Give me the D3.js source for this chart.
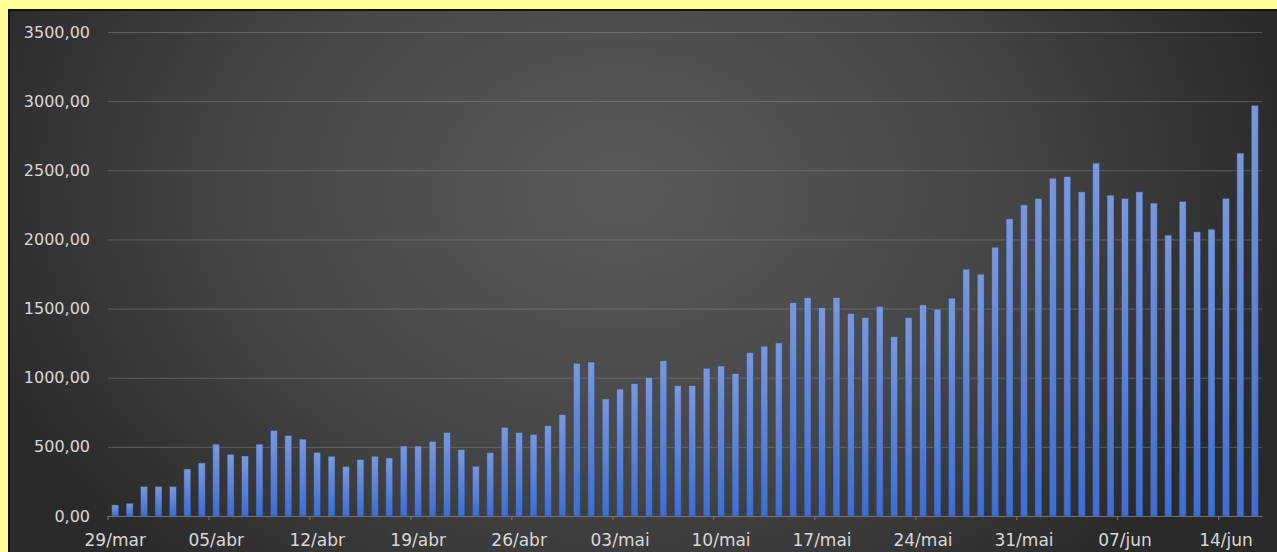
<!DOCTYPE html>
<html>
<head>
<meta charset="utf-8">
<script src="https://cdn.jsdelivr.net/npm/d3@7"></script>
<style>
  html, body { margin: 0; padding: 0; background: #ffff99; }
  svg { display: block; }
</style>
</head>
<body>
<div id="chart"></div>
<script>
// daily values, 29/mar .. 16/jun
const dates = [
  "29/mar","30/mar","31/mar",
  "01/abr","02/abr","03/abr","04/abr","05/abr","06/abr","07/abr","08/abr","09/abr","10/abr",
  "11/abr","12/abr","13/abr","14/abr","15/abr","16/abr","17/abr","18/abr","19/abr","20/abr",
  "21/abr","22/abr","23/abr","24/abr","25/abr","26/abr","27/abr","28/abr","29/abr","30/abr",
  "01/mai","02/mai","03/mai","04/mai","05/mai","06/mai","07/mai","08/mai","09/mai","10/mai",
  "11/mai","12/mai","13/mai","14/mai","15/mai","16/mai","17/mai","18/mai","19/mai","20/mai",
  "21/mai","22/mai","23/mai","24/mai","25/mai","26/mai","27/mai","28/mai","29/mai","30/mai","31/mai",
  "01/jun","02/jun","03/jun","04/jun","05/jun","06/jun","07/jun","08/jun","09/jun","10/jun",
  "11/jun","12/jun","13/jun","14/jun","15/jun","16/jun"
];

const values = [
  80, 92, 213,
  213, 213, 340, 384, 520, 446, 434, 520, 618, 582,
  556, 460, 432, 358, 408, 432, 420, 506, 506, 540,
  603, 480, 360, 458, 642, 603, 590, 653, 733, 1105,
  1114, 847, 918, 957, 1003, 1123, 943, 943, 1068, 1085,
  1030, 1182, 1228, 1252, 1543, 1580, 1507, 1580, 1465, 1435,
  1515, 1297, 1435, 1527, 1496, 1575, 1785, 1749, 1944, 2149, 2250,
  2296, 2443, 2455, 2344, 2552, 2320, 2296, 2344, 2263, 2031,
  2274, 2055, 2074, 2296, 2624, 2969
];

const yTicks = [0, 500, 1000, 1500, 2000, 2500, 3000, 3500];
const xTickLabels = ["29/mar","05/abr","12/abr","19/abr","26/abr","03/mai","10/mai","17/mai","24/mai","31/mai","07/jun","14/jun"];

const width = 1277, height = 552;
const margin = {top: 32, right: 15, bottom: 36, left: 108};

const ptBR = d3.formatLocale({decimal: ",", thousands: "", grouping: [3], currency: ["R$", ""]});
const fmt = ptBR.format(".2f");

const svg = d3.select("#chart").append("svg")
    .attr("width", width)
    .attr("height", height);

const defs = svg.append("defs");

const bg = defs.append("radialGradient")
    .attr("id", "bg")
    .attr("gradientUnits", "userSpaceOnUse")
    .attr("cx", 620).attr("cy", 190).attr("r", 680)
    .attr("gradientTransform", "translate(620,190) scale(1,0.75) translate(-620,-190)");
bg.append("stop").attr("offset", "0%").attr("stop-color", "#5a5a5a");
bg.append("stop").attr("offset", "55%").attr("stop-color", "#464646");
bg.append("stop").attr("offset", "100%").attr("stop-color", "#2a2a2a");

const barGrad = defs.append("linearGradient")
    .attr("id", "bar")
    .attr("x1", 0).attr("y1", 0).attr("x2", 0).attr("y2", 1);
barGrad.append("stop").attr("offset", "0%").attr("stop-color", "#7b97d9");
barGrad.append("stop").attr("offset", "100%").attr("stop-color", "#3e6ecf");

// chart frame (yellow page shows around it)
svg.append("rect")
    .attr("x", 8).attr("y", 9)
    .attr("width", width - 8).attr("height", height - 9)
    .attr("fill", "#111");
svg.append("rect")
    .attr("x", 10).attr("y", 11)
    .attr("width", width - 10).attr("height", height - 11)
    .attr("fill", "url(#bg)");

const x = d3.scaleBand()
    .domain(dates)
    .range([margin.left, width - margin.right])
    .paddingInner(0.52)
    .paddingOuter(0.26);

const y = d3.scaleLinear()
    .domain([0, 3500])
    .range([height - margin.bottom, margin.top]);

// gridlines + y labels
const yAxis = g => g
    .attr("transform", `translate(${margin.left},0)`)
    .call(d3.axisLeft(y)
        .tickValues(yTicks)
        .tickFormat(fmt)
        .tickSize(-(width - margin.left - margin.right))
        .tickPadding(18))
    .call(g => g.select(".domain").remove())
    .call(g => g.selectAll(".tick line")
        .attr("stroke", "#8a8a8a")
        .attr("stroke-opacity", 0.5))
    .call(g => g.selectAll(".tick text")
        .attr("fill", "#d8d8d8")
        .style("font", "16px 'DejaVu Sans', sans-serif"));

svg.append("g").call(yAxis);

// bars
svg.append("g")
  .selectAll("rect")
  .data(values)
  .join("rect")
    .attr("x", (d, i) => x(dates[i]))
    .attr("y", d => y(d))
    .attr("width", x.bandwidth())
    .attr("height", d => y(0) - y(d))
    .attr("fill", "url(#bar)")
    .attr("stroke", "#22407e")
    .attr("stroke-opacity", 0.6)
    .attr("stroke-width", 0.8);

// x axis
const step = x.step();
const xAxis = g => g
    .attr("transform", `translate(0,${y(0)})`)
    .call(d3.axisBottom(x)
        .tickValues(xTickLabels)
        .tickSize(0)
        .tickPadding(18))
    .call(g => g.select(".domain")
        .attr("stroke", "#7a7a7a")
        .attr("stroke-opacity", 0.7))
    .call(g => g.selectAll(".tick text")
        .attr("fill", "#d8d8d8")
        .style("font", "17px 'DejaVu Sans', sans-serif"))
    .call(g => g.selectAll(".tick").append("line")
        .attr("x1", -step / 2).attr("x2", -step / 2)
        .attr("y1", 0).attr("y2", 4)
        .attr("stroke", "#7a7a7a"));

svg.append("g").call(xAxis);
</script>
</body>
</html>
